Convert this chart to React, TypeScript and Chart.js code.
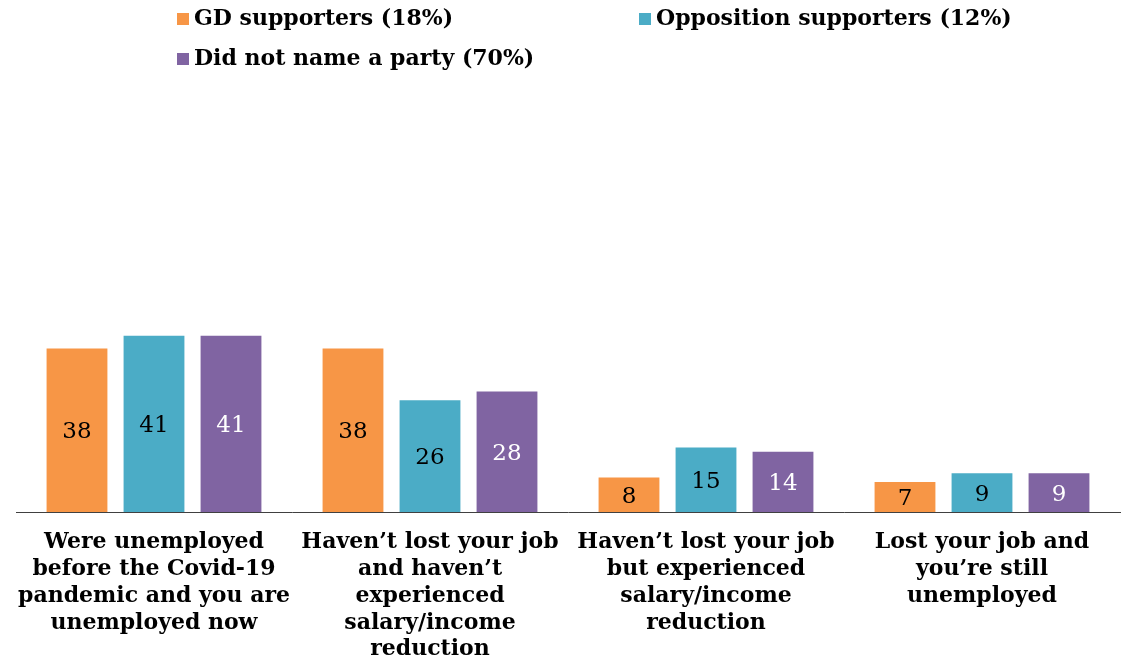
import React, { useEffect, useRef } from "react";
import { Chart, registerables } from "chart.js";

Chart.register(...registerables);

const categories: string[][] = [
  ["Were unemployed", "before the Covid-19", "pandemic and you are", "unemployed now"],
  ["Haven’t lost your job", "and haven’t", "experienced", "salary/income", "reduction"],
  ["Haven’t lost your job", "but experienced", "salary/income", "reduction"],
  ["Lost your job and", "you’re still", "unemployed"],
];
const seriesNames = ["GD supporters (18%)", "Opposition supporters (12%)", "Did not name a party (70%)"];
const gdValues = [38, 38, 8, 7];
const oppValues = [41, 26, 15, 9];
const noneValues = [41, 28, 14, 9];
const colors = ["#F79646", "#4BACC6", "#8064A2"];
const labelColors = ["#000000", "#000000", "#FFFFFF"];

const FONT = "'DejaVu Serif', serif";

const legendPlugin = {
  id: "customLegend",
  afterDraw(chart: any) {
    const ctx = chart.ctx;
    const positions = [
      { x: 177, y: 19 },
      { x: 639, y: 19 },
      { x: 177, y: 59 },
    ];
    ctx.save();
    ctx.font = `bold 22px ${FONT}`;
    ctx.textBaseline = "middle";
    ctx.textAlign = "left";
    chart.data.datasets.forEach((ds: any, i: number) => {
      const p = positions[i];
      ctx.fillStyle = ds.backgroundColor;
      ctx.fillRect(p.x, p.y - 6, 12, 12);
      ctx.fillStyle = "#000";
      ctx.fillText(ds.label, p.x + 17, p.y);
    });
    ctx.restore();
  },
};

const valueLabelPlugin = {
  id: "valueLabels",
  afterDatasetsDraw(chart: any) {
    const ctx = chart.ctx;
    ctx.save();
    ctx.font = `23px ${FONT}`;
    ctx.textAlign = "center";
    ctx.textBaseline = "middle";
    chart.data.datasets.forEach((ds: any, i: number) => {
      const meta = chart.getDatasetMeta(i);
      meta.data.forEach((bar: any, j: number) => {
        const v = ds.data[j];
        ctx.fillStyle = labelColors[i];
        ctx.fillText(String(v), bar.x, (bar.y + bar.base) / 2 + 2);
      });
    });
    ctx.restore();
  },
};

export default function App() {
  const ref = useRef<HTMLCanvasElement>(null);
  useEffect(() => {
    if (!ref.current) return;
    const chart = new Chart(ref.current, {
      type: "bar",
      data: {
        labels: categories,
        datasets: [gdValues, oppValues, noneValues].map((d, i) => ({
          label: seriesNames[i],
          data: d,
          backgroundColor: colors[i],
          borderWidth: 0,
          barPercentage: 0.79,
          categoryPercentage: 0.837,
        })),
      },
      options: {
        animation: false,
        responsive: true,
        maintainAspectRatio: false,
        layout: { padding: { top: 82, left: 16, right: 8, bottom: 0 } },
        plugins: {
          legend: { display: false },
          tooltip: { enabled: false },
        },
        scales: {
          x: {
            grid: { display: false },
            border: { display: true, color: "#404040", width: 1 },
            ticks: {
              color: "#000",
              font: { family: FONT, size: 22, weight: "bold", lineHeight: 1.22 },
              padding: 9,
              maxRotation: 0,
              autoSkip: false,
            },
            afterFit: (s: any) => {
              s.height = 148;
            },
          },
          y: {
            display: false,
            min: 0,
            max: 100,
          },
        },
      },
      plugins: [legendPlugin, valueLabelPlugin],
    });
    return () => chart.destroy();
  }, []);
  return (
    <div style={{ position: "fixed", left: 0, top: 0, width: 1128, height: 660, background: "#fff" }}>
      <canvas ref={ref} />
    </div>
  );
}
